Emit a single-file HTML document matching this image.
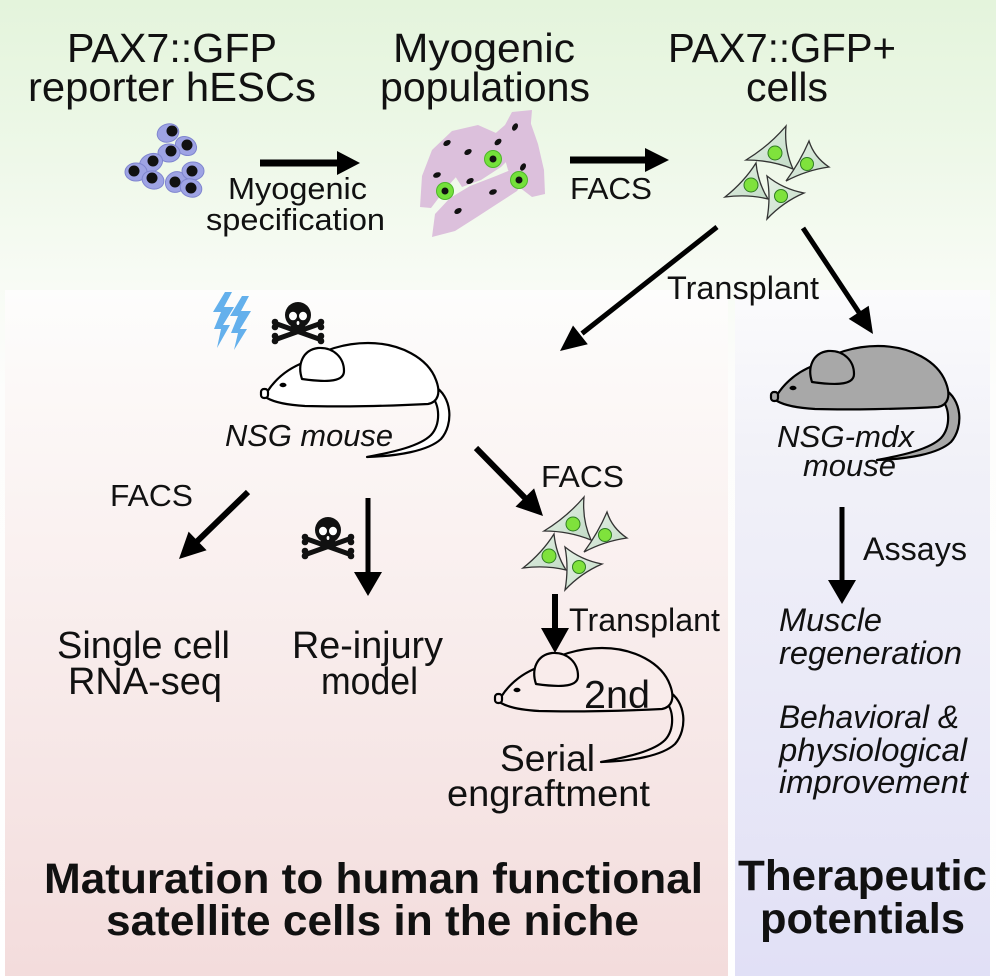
<!DOCTYPE html>
<html><head><meta charset="utf-8"><style>
html,body{margin:0;padding:0;background:#fff;width:996px;height:978px;overflow:hidden}
svg{display:block}
text{font-family:"Liberation Sans",Arial,sans-serif;fill:#111}
.i{font-style:italic}
.b{font-weight:bold}
</style></head><body>
<svg width="996" height="978" viewBox="0 0 996 978" xmlns="http://www.w3.org/2000/svg">
<defs>
<linearGradient id="bg" x1="0" y1="0" x2="0" y2="1">
<stop offset="0" stop-color="#e4f4dc"/>
<stop offset="0.12" stop-color="#ebf7e5"/>
<stop offset="0.28" stop-color="#f7fbf4"/>
<stop offset="0.4" stop-color="#fdfdfc"/>
<stop offset="1" stop-color="#ffffff"/>
</linearGradient>
<linearGradient id="lp" x1="0" y1="0" x2="0" y2="1">
<stop offset="0" stop-color="#fdfdfc"/>
<stop offset="0.25" stop-color="#fbf5f4"/>
<stop offset="1" stop-color="#f3dcdc"/>
</linearGradient>
<linearGradient id="rp" x1="0" y1="0" x2="0" y2="1">
<stop offset="0" stop-color="#fbfbfc"/>
<stop offset="0.25" stop-color="#f1f1f8"/>
<stop offset="1" stop-color="#e1e0f6"/>
</linearGradient>
<linearGradient id="cg" x1="0" y1="0" x2="1" y2="1">
<stop offset="0" stop-color="#e6f1e6"/>
<stop offset="1" stop-color="#c2dbc6"/>
</linearGradient>
</defs>

<rect width="996" height="978" fill="url(#bg)"/>
<rect x="5" y="290" width="723" height="686" fill="url(#lp)"/>
<rect x="735" y="290" width="255" height="686" fill="url(#rp)"/>

<!-- Titles -->
<text x="67" y="62" font-size="41" textLength="210" lengthAdjust="spacingAndGlyphs">PAX7::GFP</text>
<text x="28" y="101" font-size="41" textLength="288" lengthAdjust="spacingAndGlyphs">reporter hESCs</text>
<text x="393" y="62" font-size="41" textLength="182" lengthAdjust="spacingAndGlyphs">Myogenic</text>
<text x="380" y="101" font-size="41" textLength="210" lengthAdjust="spacingAndGlyphs">populations</text>
<text x="668" y="62" font-size="41" textLength="228" lengthAdjust="spacingAndGlyphs">PAX7::GFP+</text>
<text x="746" y="101" font-size="41" textLength="82" lengthAdjust="spacingAndGlyphs">cells</text>

<!-- hESC cluster -->
<g fill="#9ea3e4" stroke="#7f85cf" stroke-width="1">
<ellipse cx="168" cy="133" rx="11" ry="9" transform="rotate(-20 168 133)"/>
<ellipse cx="186" cy="146" rx="11" ry="9" transform="rotate(30 186 146)"/>
<ellipse cx="169" cy="153" rx="11" ry="9"/>
<ellipse cx="151" cy="163" rx="12" ry="9" transform="rotate(-25 151 163)"/>
<ellipse cx="136" cy="172" rx="11" ry="9"/>
<ellipse cx="153" cy="180" rx="11" ry="9" transform="rotate(15 153 180)"/>
<ellipse cx="176" cy="182" rx="11" ry="10" transform="rotate(-40 176 182)"/>
<ellipse cx="193" cy="171" rx="11" ry="9"/>
<ellipse cx="191" cy="188" rx="11" ry="9" transform="rotate(20 191 188)"/>
</g>
<g fill="#111">
<circle cx="172" cy="131" r="5.5"/><circle cx="187" cy="145" r="5.5"/><circle cx="171" cy="151" r="5.5"/>
<circle cx="153" cy="161" r="5.5"/><circle cx="134" cy="171" r="5.5"/><circle cx="152" cy="178" r="5.5"/>
<circle cx="175" cy="182" r="5.5"/><circle cx="192" cy="171" r="5.5"/><circle cx="191" cy="188" r="5.5"/>
</g>

<!-- Arrow 1 -->
<line x1="260" y1="163" x2="340" y2="163" stroke="#000" stroke-width="7"/>
<polygon points="337,151 360,163 337,175" fill="#000"/>
<text x="228" y="199" font-size="31" textLength="139" lengthAdjust="spacingAndGlyphs">Myogenic</text>
<text x="206" y="230" font-size="31" textLength="179" lengthAdjust="spacingAndGlyphs">specification</text>

<!-- Myogenic populations (pink) -->
<g fill="#dcc0dc">
<polygon points="420,207 422,176 432,150 452,131 478,125 496,133 484,151 465,167 447,187 431,208"/>
<polygon points="455,176 470,154 490,138 505,125 512,112 532,110 530,134 517,151 501,167 481,180 462,187"/>
<polygon points="503,152 515,133 530,121 538,144 544,170 545,194 532,197 519,187 508,170"/>
<polygon points="432,237 435,214 450,198 470,186 496,176 518,167 529,174 517,191 497,204 477,217 455,231"/>
<polygon points="468,196 490,180 508,183 497,199 478,207"/>
<polygon points="480,150 497,137 511,139 501,160 485,166"/>
</g>
<g fill="#111">
<ellipse cx="447" cy="143" rx="4" ry="2.6" transform="rotate(-30 447 143)"/>
<ellipse cx="468" cy="152" rx="4" ry="2.6" transform="rotate(-30 468 152)"/>
<ellipse cx="515" cy="127" rx="4" ry="2.6" transform="rotate(-60 515 127)"/>
<ellipse cx="498" cy="142" rx="4" ry="2.6" transform="rotate(-40 498 142)"/>
<ellipse cx="523" cy="167" rx="4" ry="2.6" transform="rotate(-60 523 167)"/>
<ellipse cx="437" cy="175" rx="4" ry="2.6" transform="rotate(-20 437 175)"/>
<ellipse cx="470" cy="181" rx="4" ry="2.6" transform="rotate(-30 470 181)"/>
<ellipse cx="493" cy="192" rx="4" ry="2.6" transform="rotate(-20 493 192)"/>
<ellipse cx="458" cy="211" rx="4" ry="2.6" transform="rotate(-30 458 211)"/>
</g>
<g>
<circle cx="493" cy="159" r="8.5" fill="#74e03a" stroke="#4db62a" stroke-width="1"/>
<circle cx="493" cy="159" r="3.5" fill="#111"/>
<circle cx="445" cy="191" r="8.5" fill="#74e03a" stroke="#4db62a" stroke-width="1"/>
<circle cx="445" cy="191" r="3.5" fill="#111"/>
<circle cx="519" cy="180" r="8.5" fill="#74e03a" stroke="#4db62a" stroke-width="1"/>
<circle cx="519" cy="180" r="3.5" fill="#111"/>
</g>

<!-- Arrow 2 FACS -->
<line x1="570" y1="160" x2="648" y2="160" stroke="#000" stroke-width="7"/>
<polygon points="645,148 669,160 645,172" fill="#000"/>
<text x="570" y="199" font-size="31" textLength="82" lengthAdjust="spacingAndGlyphs">FACS</text>

<!-- GFP+ cells cluster -->
<g id="gfp">
<g fill="url(#cg)" stroke="#333" stroke-width="1.3" stroke-linejoin="miter">
<path d="M746,160 Q769,146 786,126 Q784,149 793,169 Q771,160 746,160 Z"/>
<path d="M786,181 Q800,162 809,141 Q814,157 829,167 Q807,170 786,181 Z"/>
<path d="M725,197 Q744,182 756,163 Q758,183 768,199 Q748,194 725,197 Z"/>
<path d="M767,176 Q783,189 804,193 Q783,202 767,219 Q771,197 767,176 Z"/>
</g>
<g fill="#7fe23c" stroke="#2f7d22" stroke-width="1">
<circle cx="775" cy="153" r="7"/>
<circle cx="807" cy="164" r="6.5"/>
<circle cx="751" cy="185" r="7"/>
<circle cx="781" cy="196" r="6.5"/>
</g>
</g>

<!-- Transplant arrows from GFP -->
<line x1="717" y1="227" x2="582" y2="333.5" stroke="#000" stroke-width="5"/>
<polygon points="587.8,344.3 560,351 573,325.5" fill="#000"/>
<line x1="803" y1="228" x2="860" y2="314" stroke="#000" stroke-width="5"/>
<polygon points="848.7,318.9 873,334 868.7,305.7" fill="#000"/>
<text x="667" y="299" font-size="32" textLength="152" lengthAdjust="spacingAndGlyphs">Transplant</text>

<!-- Lightning bolts -->
<g fill="#64b0ec">
<polygon points="225,292 232,292 224,307 234,307 223,325 230,325 217,348 221,329 214,329 221,312 213,312"/>
<polygon points="242,296 249,296 241,311 251,311 240,329 247,329 234,350 238,333 231,333 238,316 230,316"/>
</g>

<!-- Skull 1 -->
<g transform="translate(272,302)">
<g stroke="#111" stroke-width="5" stroke-linecap="round">
<line x1="5" y1="22" x2="47" y2="37"/>
<line x1="5" y1="37" x2="47" y2="22"/>
</g>
<g fill="#111">
<circle cx="3" cy="20" r="3.3"/><circle cx="3" cy="25" r="3.3"/>
<circle cx="49" cy="20" r="3.3"/><circle cx="49" cy="25" r="3.3"/>
<circle cx="3" cy="34" r="3.3"/><circle cx="3" cy="39" r="3.3"/>
<circle cx="49" cy="34" r="3.3"/><circle cx="49" cy="39" r="3.3"/>
<circle cx="26" cy="13" r="13"/>
<rect x="19" y="18" width="14" height="14" rx="3"/>
</g>
<g fill="#fff">
<ellipse cx="21" cy="14" rx="4" ry="4.3"/>
<ellipse cx="31" cy="14" rx="4" ry="4.3"/>
<ellipse cx="26" cy="21" rx="1.4" ry="2"/>
</g>
</g>

<!-- NSG mouse -->
<g stroke="#000" stroke-width="2.2" stroke-linejoin="round" fill="#fff">
<path d="M434,386 C452,396 454,424 441,439 C428,451 398,456 367,457 C394,452 420,446 431,435 C441,424 440,404 431,396 Z"/>
<path d="M267,392 C276,378 289,368 305,362 C322,350 345,343 368,343 C400,343 428,358 436,380 C441,393 438,402 428,404 C390,406 340,407 305,406 C288,405 274,402 267,398 Z"/>
<rect x="261" y="389" width="7" height="9" rx="3"/>
<path d="M302,379 C297,364 303,350 318,348 C334,347 344,358 344,371 C344,381 330,383 302,379 Z"/>
<ellipse cx="283" cy="385" rx="3.5" ry="2.2" fill="#000" stroke="none"/>
</g>
<text class="i" x="225" y="446" font-size="31" textLength="168" lengthAdjust="spacingAndGlyphs">NSG mouse</text>

<!-- NSG-mdx mouse -->
<g transform="translate(510,3)" stroke="#000" stroke-width="2.2" stroke-linejoin="round" fill="#a8a8a8">
<path d="M434,386 C452,396 454,424 441,439 C428,451 398,456 367,457 C394,452 420,446 431,435 C441,424 440,404 431,396 Z"/>
<path d="M267,392 C276,378 289,368 305,362 C322,350 345,343 368,343 C400,343 428,358 436,380 C441,393 438,402 428,404 C390,406 340,407 305,406 C288,405 274,402 267,398 Z"/>
<rect x="261" y="389" width="7" height="9" rx="3"/>
<path d="M302,379 C297,364 303,350 318,348 C334,347 344,358 344,371 C344,381 330,383 302,379 Z"/>
<ellipse cx="283" cy="385" rx="3.5" ry="2.2" fill="#000" stroke="none"/>
</g>
<text class="i" x="777" y="447" font-size="31" textLength="137" lengthAdjust="spacingAndGlyphs">NSG-mdx</text>
<text class="i" x="803" y="476" font-size="31" textLength="93" lengthAdjust="spacingAndGlyphs">mouse</text>

<!-- Arrow NSG -> FACS cells -->
<line x1="476" y1="448" x2="526" y2="499" stroke="#000" stroke-width="6"/>
<polygon points="515.5,506.6 543,516 534.1,488.4" fill="#000"/>
<text x="541" y="487" font-size="31" textLength="83" lengthAdjust="spacingAndGlyphs">FACS</text>

<!-- GFP cluster 2 -->
<use href="#gfp" transform="translate(-202,371)"/>

<!-- Arrow down Transplant -->
<line x1="555" y1="594" x2="555" y2="630" stroke="#000" stroke-width="6"/>
<polygon points="541,628 555,653 569,628" fill="#000"/>
<text x="569" y="631" font-size="32" textLength="151" lengthAdjust="spacingAndGlyphs">Transplant</text>

<!-- 2nd mouse -->
<g transform="translate(234,305)" stroke="#000" stroke-width="2.2" stroke-linejoin="round" fill="#f9eceb">
<path d="M434,386 C452,396 454,424 441,439 C428,451 398,456 367,457 C394,452 420,446 431,435 C441,424 440,404 431,396 Z"/>
<path d="M267,392 C276,378 289,368 305,362 C322,350 345,343 368,343 C400,343 428,358 436,380 C441,393 438,402 428,404 C390,406 340,407 305,406 C288,405 274,402 267,398 Z"/>
<rect x="261" y="389" width="7" height="9" rx="3"/>
<path d="M302,379 C297,364 303,350 318,348 C334,347 344,358 344,371 C344,381 330,383 302,379 Z"/>
<ellipse cx="283" cy="385" rx="3.5" ry="2.2" fill="#000" stroke="none"/>
</g>
<text x="584" y="708" font-size="39" textLength="66" lengthAdjust="spacingAndGlyphs">2nd</text>
<text x="500" y="771" font-size="37" textLength="95" lengthAdjust="spacingAndGlyphs">Serial</text>
<text x="447" y="806" font-size="37" textLength="203" lengthAdjust="spacingAndGlyphs">engraftment</text>

<!-- Left branch -->
<text x="110" y="506" font-size="31" textLength="83" lengthAdjust="spacingAndGlyphs">FACS</text>
<line x1="248" y1="492" x2="196" y2="542.5" stroke="#000" stroke-width="6"/>
<polygon points="206.6,550.2 179,559 188.6,531.6" fill="#000"/>

<!-- Skull 2 -->
<g transform="translate(302,517)">
<g stroke="#111" stroke-width="5" stroke-linecap="round">
<line x1="5" y1="22" x2="47" y2="37"/>
<line x1="5" y1="37" x2="47" y2="22"/>
</g>
<g fill="#111">
<circle cx="3" cy="20" r="3.3"/><circle cx="3" cy="25" r="3.3"/>
<circle cx="49" cy="20" r="3.3"/><circle cx="49" cy="25" r="3.3"/>
<circle cx="3" cy="34" r="3.3"/><circle cx="3" cy="39" r="3.3"/>
<circle cx="49" cy="34" r="3.3"/><circle cx="49" cy="39" r="3.3"/>
<circle cx="26" cy="13" r="13"/>
<rect x="19" y="18" width="14" height="14" rx="3"/>
</g>
<g fill="#fff">
<ellipse cx="21" cy="14" rx="4" ry="4.3"/>
<ellipse cx="31" cy="14" rx="4" ry="4.3"/>
<ellipse cx="26" cy="21" rx="1.4" ry="2"/>
</g>
</g>
<line x1="368" y1="498" x2="368" y2="574" stroke="#000" stroke-width="5"/>
<polygon points="354,572 368,596 382,572" fill="#000"/>

<text x="57" y="658" font-size="38" textLength="173" lengthAdjust="spacingAndGlyphs">Single cell</text>
<text x="68" y="694" font-size="38" textLength="154" lengthAdjust="spacingAndGlyphs">RNA-seq</text>
<text x="292" y="658" font-size="38" textLength="151" lengthAdjust="spacingAndGlyphs">Re-injury</text>
<text x="321" y="694" font-size="38" textLength="97" lengthAdjust="spacingAndGlyphs">model</text>

<!-- Right branch -->
<line x1="842" y1="507" x2="842" y2="582" stroke="#000" stroke-width="5"/>
<polygon points="828,580 842,604 856,580" fill="#000"/>
<text x="863" y="560" font-size="32" textLength="104" lengthAdjust="spacingAndGlyphs">Assays</text>
<text class="i" x="779" y="631" font-size="32" textLength="103" lengthAdjust="spacingAndGlyphs">Muscle</text>
<text class="i" x="779" y="664" font-size="32" textLength="183" lengthAdjust="spacingAndGlyphs">regeneration</text>
<text class="i" x="779" y="728" font-size="32" textLength="180" lengthAdjust="spacingAndGlyphs">Behavioral &amp;</text>
<text class="i" x="779" y="761" font-size="32" textLength="188" lengthAdjust="spacingAndGlyphs">physiological</text>
<text class="i" x="779" y="793" font-size="32" textLength="189" lengthAdjust="spacingAndGlyphs">improvement</text>

<!-- Bottom headings -->
<text class="b" x="44" y="893" font-size="43" textLength="659" lengthAdjust="spacingAndGlyphs">Maturation to human functional</text>
<text class="b" x="106" y="935" font-size="43" textLength="533" lengthAdjust="spacingAndGlyphs">satellite cells in the niche</text>
<text class="b" x="738" y="890" font-size="43" textLength="249" lengthAdjust="spacingAndGlyphs">Therapeutic</text>
<text class="b" x="760" y="933" font-size="43" textLength="205" lengthAdjust="spacingAndGlyphs">potentials</text>
</svg>
</body></html>
